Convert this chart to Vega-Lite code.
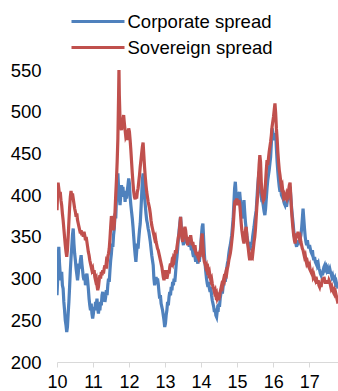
{
  "$schema": "https://vega.github.io/schema/vega-lite/v6.json",
  "width": 281,
  "height": 292,
  "autosize": {"type": "none"},
  "padding": {"left": 57, "top": 70, "right": 0, "bottom": 29},
  "background": "white",
  "config": {"view": {"stroke": null}, "font": "Liberation Sans"},
  "datasets": {
    "blue": [
{"t":10.00,"v":280},{"t":10.02,"v":300},{"t":10.03,"v":322},{"t":10.05,"v":338},{"t":10.07,"v":318},{"t":10.09,"v":305},{"t":10.11,"v":298},{"t":10.13,"v":308},{"t":10.15,"v":292},{"t":10.17,"v":288},{"t":10.19,"v":272},{"t":10.21,"v":262},{"t":10.23,"v":250},{"t":10.25,"v":244},{"t":10.27,"v":236},{"t":10.29,"v":242},{"t":10.31,"v":258},{"t":10.33,"v":272},{"t":10.35,"v":290},{"t":10.37,"v":310},{"t":10.39,"v":325},{"t":10.41,"v":338},{"t":10.43,"v":352},{"t":10.45,"v":360},{"t":10.47,"v":342},{"t":10.49,"v":330},{"t":10.51,"v":322},{"t":10.53,"v":312},{"t":10.55,"v":305},{"t":10.57,"v":298},{"t":10.59,"v":306},{"t":10.61,"v":318},{"t":10.63,"v":312},{"t":10.65,"v":322},{"t":10.67,"v":328},{"t":10.69,"v":318},{"t":10.71,"v":310},{"t":10.73,"v":302},{"t":10.75,"v":298},{"t":10.77,"v":305},{"t":10.79,"v":292},{"t":10.81,"v":300},{"t":10.83,"v":306},{"t":10.85,"v":298},{"t":10.87,"v":288},{"t":10.89,"v":276},{"t":10.91,"v":268},{"t":10.93,"v":262},{"t":10.95,"v":270},{"t":10.97,"v":258},{"t":10.99,"v":252},
{"t":11.01,"v":258},{"t":11.03,"v":266},{"t":11.05,"v":262},{"t":11.07,"v":272},{"t":11.09,"v":268},{"t":11.11,"v":276},{"t":11.13,"v":264},{"t":11.15,"v":258},{"t":11.17,"v":266},{"t":11.19,"v":262},{"t":11.21,"v":272},{"t":11.23,"v":268},{"t":11.25,"v":280},{"t":11.27,"v":284},{"t":11.29,"v":274},{"t":11.31,"v":280},{"t":11.33,"v":272},{"t":11.35,"v":278},{"t":11.37,"v":286},{"t":11.39,"v":280},{"t":11.41,"v":292},{"t":11.43,"v":300},{"t":11.45,"v":296},{"t":11.47,"v":310},{"t":11.49,"v":322},{"t":11.51,"v":330},{"t":11.53,"v":342},{"t":11.55,"v":338},{"t":11.57,"v":352},{"t":11.59,"v":360},{"t":11.61,"v":378},{"t":11.63,"v":372},{"t":11.65,"v":395},{"t":11.67,"v":410},{"t":11.69,"v":426},{"t":11.71,"v":408},{"t":11.73,"v":396},{"t":11.75,"v":388},{"t":11.77,"v":400},{"t":11.79,"v":412},{"t":11.81,"v":404},{"t":11.83,"v":410},{"t":11.85,"v":398},{"t":11.87,"v":405},{"t":11.89,"v":392},{"t":11.91,"v":402},{"t":11.93,"v":396},{"t":11.95,"v":405},{"t":11.97,"v":412},{"t":11.99,"v":420},
{"t":12.01,"v":414},{"t":12.03,"v":398},{"t":12.05,"v":388},{"t":12.07,"v":380},{"t":12.09,"v":372},{"t":12.11,"v":362},{"t":12.13,"v":350},{"t":12.15,"v":338},{"t":12.17,"v":328},{"t":12.19,"v":320},{"t":12.21,"v":332},{"t":12.23,"v":342},{"t":12.25,"v":336},{"t":12.27,"v":348},{"t":12.29,"v":358},{"t":12.31,"v":366},{"t":12.33,"v":382},{"t":12.35,"v":400},{"t":12.37,"v":418},{"t":12.39,"v":426},{"t":12.41,"v":410},{"t":12.43,"v":398},{"t":12.45,"v":388},{"t":12.47,"v":378},{"t":12.49,"v":370},{"t":12.51,"v":366},{"t":12.53,"v":360},{"t":12.55,"v":356},{"t":12.57,"v":350},{"t":12.59,"v":344},{"t":12.61,"v":336},{"t":12.63,"v":328},{"t":12.65,"v":322},{"t":12.67,"v":316},{"t":12.69,"v":300},{"t":12.71,"v":292},{"t":12.73,"v":296},{"t":12.75,"v":302},{"t":12.77,"v":296},{"t":12.79,"v":300},{"t":12.81,"v":294},{"t":12.83,"v":284},{"t":12.85,"v":276},{"t":12.87,"v":280},{"t":12.89,"v":270},{"t":12.91,"v":266},{"t":12.93,"v":262},{"t":12.95,"v":256},{"t":12.97,"v":250},{"t":12.99,"v":242},
{"t":13.01,"v":246},{"t":13.03,"v":256},{"t":13.05,"v":262},{"t":13.07,"v":272},{"t":13.09,"v":268},{"t":13.11,"v":278},{"t":13.13,"v":284},{"t":13.15,"v":280},{"t":13.17,"v":290},{"t":13.19,"v":286},{"t":13.21,"v":296},{"t":13.23,"v":292},{"t":13.25,"v":300},{"t":13.27,"v":296},{"t":13.29,"v":306},{"t":13.31,"v":318},{"t":13.33,"v":326},{"t":13.35,"v":336},{"t":13.37,"v":348},{"t":13.39,"v":358},{"t":13.41,"v":366},{"t":13.43,"v":374},{"t":13.45,"v":362},{"t":13.47,"v":350},{"t":13.49,"v":346},{"t":13.51,"v":340},{"t":13.53,"v":348},{"t":13.55,"v":344},{"t":13.57,"v":352},{"t":13.59,"v":348},{"t":13.61,"v":342},{"t":13.63,"v":348},{"t":13.65,"v":344},{"t":13.67,"v":338},{"t":13.69,"v":346},{"t":13.71,"v":340},{"t":13.73,"v":334},{"t":13.75,"v":338},{"t":13.77,"v":330},{"t":13.79,"v":326},{"t":13.81,"v":332},{"t":13.83,"v":326},{"t":13.85,"v":320},{"t":13.87,"v":328},{"t":13.89,"v":322},{"t":13.91,"v":318},{"t":13.93,"v":324},{"t":13.95,"v":320},{"t":13.97,"v":328},{"t":13.99,"v":340},
{"t":14.01,"v":352},{"t":14.03,"v":362},{"t":14.05,"v":366},{"t":14.07,"v":348},{"t":14.09,"v":330},{"t":14.11,"v":318},{"t":14.13,"v":308},{"t":14.15,"v":300},{"t":14.17,"v":294},{"t":14.19,"v":290},{"t":14.21,"v":296},{"t":14.23,"v":288},{"t":14.25,"v":284},{"t":14.27,"v":290},{"t":14.29,"v":280},{"t":14.31,"v":274},{"t":14.33,"v":270},{"t":14.35,"v":266},{"t":14.37,"v":260},{"t":14.39,"v":264},{"t":14.41,"v":256},{"t":14.43,"v":254},{"t":14.45,"v":262},{"t":14.47,"v":260},{"t":14.49,"v":270},{"t":14.51,"v":266},{"t":14.53,"v":276},{"t":14.55,"v":282},{"t":14.57,"v":286},{"t":14.59,"v":282},{"t":14.61,"v":290},{"t":14.63,"v":296},{"t":14.65,"v":300},{"t":14.67,"v":296},{"t":14.69,"v":306},{"t":14.71,"v":312},{"t":14.73,"v":318},{"t":14.75,"v":322},{"t":14.77,"v":330},{"t":14.79,"v":336},{"t":14.81,"v":340},{"t":14.83,"v":346},{"t":14.85,"v":352},{"t":14.87,"v":362},{"t":14.89,"v":372},{"t":14.91,"v":390},{"t":14.93,"v":408},{"t":14.95,"v":416},{"t":14.97,"v":402},{"t":14.99,"v":396},
{"t":15.01,"v":398},{"t":15.03,"v":392},{"t":15.05,"v":400},{"t":15.07,"v":404},{"t":15.09,"v":394},{"t":15.11,"v":384},{"t":15.13,"v":372},{"t":15.15,"v":376},{"t":15.17,"v":386},{"t":15.19,"v":394},{"t":15.21,"v":380},{"t":15.23,"v":368},{"t":15.25,"v":360},{"t":15.27,"v":352},{"t":15.29,"v":346},{"t":15.31,"v":342},{"t":15.33,"v":338},{"t":15.35,"v":334},{"t":15.37,"v":338},{"t":15.39,"v":344},{"t":15.41,"v":340},{"t":15.43,"v":350},{"t":15.45,"v":356},{"t":15.47,"v":362},{"t":15.49,"v":370},{"t":15.51,"v":376},{"t":15.53,"v":382},{"t":15.55,"v":396},{"t":15.57,"v":410},{"t":15.59,"v":420},{"t":15.61,"v":428},{"t":15.63,"v":414},{"t":15.65,"v":404},{"t":15.67,"v":398},{"t":15.69,"v":400},{"t":15.71,"v":392},{"t":15.73,"v":386},{"t":15.75,"v":380},{"t":15.77,"v":376},{"t":15.79,"v":384},{"t":15.81,"v":396},{"t":15.83,"v":408},{"t":15.85,"v":418},{"t":15.87,"v":424},{"t":15.89,"v":430},{"t":15.91,"v":438},{"t":15.93,"v":446},{"t":15.95,"v":462},{"t":15.97,"v":480},{"t":15.99,"v":476},
{"t":16.01,"v":470},{"t":16.03,"v":466},{"t":16.05,"v":472},{"t":16.07,"v":474},{"t":16.09,"v":456},{"t":16.11,"v":440},{"t":16.13,"v":428},{"t":16.15,"v":418},{"t":16.17,"v":410},{"t":16.19,"v":404},{"t":16.21,"v":408},{"t":16.23,"v":400},{"t":16.25,"v":398},{"t":16.27,"v":402},{"t":16.29,"v":394},{"t":16.31,"v":390},{"t":16.33,"v":388},{"t":16.35,"v":392},{"t":16.37,"v":386},{"t":16.39,"v":392},{"t":16.41,"v":396},{"t":16.43,"v":402},{"t":16.45,"v":406},{"t":16.47,"v":410},{"t":16.49,"v":398},{"t":16.51,"v":386},{"t":16.53,"v":376},{"t":16.55,"v":368},{"t":16.57,"v":358},{"t":16.59,"v":350},{"t":16.61,"v":346},{"t":16.63,"v":342},{"t":16.65,"v":338},{"t":16.67,"v":344},{"t":16.69,"v":340},{"t":16.71,"v":346},{"t":16.73,"v":342},{"t":16.75,"v":348},{"t":16.77,"v":352},{"t":16.79,"v":360},{"t":16.81,"v":372},{"t":16.83,"v":384},{"t":16.85,"v":372},{"t":16.87,"v":360},{"t":16.89,"v":350},{"t":16.91,"v":344},{"t":16.93,"v":340},{"t":16.95,"v":346},{"t":16.97,"v":340},{"t":16.99,"v":336},
{"t":17.01,"v":340},{"t":17.03,"v":336},{"t":17.05,"v":332},{"t":17.07,"v":330},{"t":17.09,"v":334},{"t":17.11,"v":326},{"t":17.13,"v":322},{"t":17.15,"v":326},{"t":17.17,"v":320},{"t":17.19,"v":318},{"t":17.21,"v":322},{"t":17.23,"v":316},{"t":17.25,"v":318},{"t":17.27,"v":312},{"t":17.29,"v":310},{"t":17.31,"v":306},{"t":17.33,"v":304},{"t":17.35,"v":308},{"t":17.37,"v":304},{"t":17.39,"v":310},{"t":17.41,"v":314},{"t":17.43,"v":316},{"t":17.45,"v":312},{"t":17.47,"v":314},{"t":17.49,"v":310},{"t":17.51,"v":312},{"t":17.53,"v":306},{"t":17.55,"v":310},{"t":17.57,"v":312},{"t":17.59,"v":308},{"t":17.61,"v":306},{"t":17.63,"v":302},{"t":17.65,"v":304},{"t":17.67,"v":300},{"t":17.69,"v":298},{"t":17.71,"v":300},{"t":17.73,"v":294},{"t":17.75,"v":296},{"t":17.77,"v":292},{"t":17.79,"v":290},{"t":17.80,"v":288}
    ],
    "red": [
{"t":10.00,"v":382},{"t":10.02,"v":405},{"t":10.03,"v":415},{"t":10.05,"v":408},{"t":10.07,"v":400},{"t":10.09,"v":404},{"t":10.11,"v":394},{"t":10.13,"v":388},{"t":10.15,"v":378},{"t":10.17,"v":370},{"t":10.19,"v":360},{"t":10.21,"v":350},{"t":10.23,"v":340},{"t":10.25,"v":332},{"t":10.27,"v":326},{"t":10.29,"v":334},{"t":10.31,"v":350},{"t":10.33,"v":368},{"t":10.35,"v":385},{"t":10.37,"v":398},{"t":10.39,"v":405},{"t":10.41,"v":398},{"t":10.43,"v":402},{"t":10.45,"v":396},{"t":10.47,"v":390},{"t":10.49,"v":384},{"t":10.51,"v":380},{"t":10.53,"v":374},{"t":10.55,"v":378},{"t":10.57,"v":370},{"t":10.59,"v":366},{"t":10.61,"v":362},{"t":10.63,"v":358},{"t":10.65,"v":354},{"t":10.67,"v":358},{"t":10.69,"v":352},{"t":10.71,"v":356},{"t":10.73,"v":350},{"t":10.75,"v":356},{"t":10.77,"v":352},{"t":10.79,"v":346},{"t":10.81,"v":350},{"t":10.83,"v":344},{"t":10.85,"v":338},{"t":10.87,"v":332},{"t":10.89,"v":328},{"t":10.91,"v":322},{"t":10.93,"v":318},{"t":10.95,"v":314},{"t":10.97,"v":310},{"t":10.99,"v":312},
{"t":11.01,"v":306},{"t":11.03,"v":310},{"t":11.05,"v":302},{"t":11.07,"v":298},{"t":11.09,"v":300},{"t":11.11,"v":292},{"t":11.13,"v":286},{"t":11.15,"v":290},{"t":11.17,"v":298},{"t":11.19,"v":304},{"t":11.21,"v":300},{"t":11.23,"v":308},{"t":11.25,"v":304},{"t":11.27,"v":310},{"t":11.29,"v":306},{"t":11.31,"v":312},{"t":11.33,"v":316},{"t":11.35,"v":312},{"t":11.37,"v":320},{"t":11.39,"v":318},{"t":11.41,"v":326},{"t":11.43,"v":330},{"t":11.45,"v":336},{"t":11.47,"v":348},{"t":11.49,"v":362},{"t":11.51,"v":375},{"t":11.53,"v":370},{"t":11.55,"v":362},{"t":11.57,"v":358},{"t":11.59,"v":364},{"t":11.61,"v":380},{"t":11.63,"v":400},{"t":11.65,"v":418},{"t":11.67,"v":440},{"t":11.69,"v":468},{"t":11.71,"v":520},{"t":11.72,"v":552},{"t":11.73,"v":520},{"t":11.75,"v":490},{"t":11.77,"v":482},{"t":11.79,"v":478},{"t":11.81,"v":486},{"t":11.83,"v":490},{"t":11.85,"v":496},{"t":11.87,"v":486},{"t":11.89,"v":478},{"t":11.91,"v":470},{"t":11.93,"v":472},{"t":11.95,"v":466},{"t":11.97,"v":474},{"t":11.99,"v":480},
{"t":12.01,"v":476},{"t":12.03,"v":466},{"t":12.05,"v":454},{"t":12.07,"v":440},{"t":12.09,"v":426},{"t":12.11,"v":414},{"t":12.13,"v":404},{"t":12.15,"v":398},{"t":12.17,"v":395},{"t":12.19,"v":400},{"t":12.21,"v":396},{"t":12.23,"v":404},{"t":12.25,"v":408},{"t":12.27,"v":416},{"t":12.29,"v":424},{"t":12.31,"v":434},{"t":12.33,"v":442},{"t":12.35,"v":450},{"t":12.37,"v":458},{"t":12.39,"v":463},{"t":12.41,"v":448},{"t":12.43,"v":434},{"t":12.45,"v":422},{"t":12.47,"v":412},{"t":12.49,"v":404},{"t":12.51,"v":398},{"t":12.53,"v":392},{"t":12.55,"v":388},{"t":12.57,"v":384},{"t":12.59,"v":378},{"t":12.61,"v":370},{"t":12.63,"v":364},{"t":12.65,"v":360},{"t":12.67,"v":356},{"t":12.69,"v":352},{"t":12.71,"v":348},{"t":12.73,"v":350},{"t":12.75,"v":344},{"t":12.77,"v":340},{"t":12.79,"v":336},{"t":12.81,"v":334},{"t":12.83,"v":330},{"t":12.85,"v":326},{"t":12.87,"v":322},{"t":12.89,"v":318},{"t":12.91,"v":314},{"t":12.93,"v":308},{"t":12.95,"v":302},{"t":12.97,"v":298},{"t":12.99,"v":304},
{"t":13.01,"v":310},{"t":13.03,"v":306},{"t":13.05,"v":300},{"t":13.07,"v":304},{"t":13.09,"v":310},{"t":13.11,"v":306},{"t":13.13,"v":314},{"t":13.15,"v":318},{"t":13.17,"v":314},{"t":13.19,"v":320},{"t":13.21,"v":318},{"t":13.23,"v":324},{"t":13.25,"v":322},{"t":13.27,"v":328},{"t":13.29,"v":334},{"t":13.31,"v":330},{"t":13.33,"v":338},{"t":13.35,"v":344},{"t":13.37,"v":350},{"t":13.39,"v":354},{"t":13.41,"v":364},{"t":13.43,"v":374},{"t":13.45,"v":360},{"t":13.47,"v":348},{"t":13.49,"v":344},{"t":13.51,"v":350},{"t":13.53,"v":356},{"t":13.55,"v":362},{"t":13.57,"v":358},{"t":13.59,"v":350},{"t":13.61,"v":344},{"t":13.63,"v":340},{"t":13.65,"v":346},{"t":13.67,"v":350},{"t":13.69,"v":344},{"t":13.71,"v":352},{"t":13.73,"v":346},{"t":13.75,"v":340},{"t":13.77,"v":344},{"t":13.79,"v":338},{"t":13.81,"v":336},{"t":13.83,"v":340},{"t":13.85,"v":332},{"t":13.87,"v":328},{"t":13.89,"v":332},{"t":13.91,"v":326},{"t":13.93,"v":324},{"t":13.95,"v":328},{"t":13.97,"v":326},{"t":13.99,"v":336},
{"t":14.01,"v":348},{"t":14.03,"v":354},{"t":14.05,"v":340},{"t":14.07,"v":326},{"t":14.09,"v":320},{"t":14.11,"v":318},{"t":14.13,"v":314},{"t":14.15,"v":316},{"t":14.17,"v":310},{"t":14.19,"v":312},{"t":14.21,"v":306},{"t":14.23,"v":308},{"t":14.25,"v":302},{"t":14.27,"v":298},{"t":14.29,"v":300},{"t":14.31,"v":294},{"t":14.33,"v":290},{"t":14.35,"v":288},{"t":14.37,"v":284},{"t":14.39,"v":286},{"t":14.41,"v":280},{"t":14.43,"v":282},{"t":14.45,"v":276},{"t":14.47,"v":278},{"t":14.49,"v":274},{"t":14.51,"v":278},{"t":14.53,"v":284},{"t":14.55,"v":288},{"t":14.57,"v":292},{"t":14.59,"v":290},{"t":14.61,"v":296},{"t":14.63,"v":300},{"t":14.65,"v":298},{"t":14.67,"v":304},{"t":14.69,"v":308},{"t":14.71,"v":306},{"t":14.73,"v":312},{"t":14.75,"v":316},{"t":14.77,"v":322},{"t":14.79,"v":326},{"t":14.81,"v":330},{"t":14.83,"v":336},{"t":14.85,"v":344},{"t":14.87,"v":352},{"t":14.89,"v":362},{"t":14.91,"v":376},{"t":14.93,"v":390},{"t":14.95,"v":394},{"t":14.97,"v":388},{"t":14.99,"v":396},
{"t":15.01,"v":392},{"t":15.03,"v":388},{"t":15.05,"v":394},{"t":15.07,"v":390},{"t":15.09,"v":380},{"t":15.11,"v":368},{"t":15.13,"v":358},{"t":15.15,"v":352},{"t":15.17,"v":346},{"t":15.19,"v":342},{"t":15.21,"v":350},{"t":15.23,"v":358},{"t":15.25,"v":362},{"t":15.27,"v":352},{"t":15.29,"v":342},{"t":15.31,"v":336},{"t":15.33,"v":328},{"t":15.35,"v":322},{"t":15.37,"v":326},{"t":15.39,"v":322},{"t":15.41,"v":330},{"t":15.43,"v":328},{"t":15.45,"v":336},{"t":15.47,"v":344},{"t":15.49,"v":350},{"t":15.51,"v":360},{"t":15.53,"v":374},{"t":15.55,"v":388},{"t":15.57,"v":400},{"t":15.59,"v":420},{"t":15.61,"v":436},{"t":15.63,"v":448},{"t":15.65,"v":440},{"t":15.67,"v":416},{"t":15.69,"v":402},{"t":15.71,"v":398},{"t":15.73,"v":394},{"t":15.75,"v":396},{"t":15.77,"v":404},{"t":15.79,"v":416},{"t":15.81,"v":430},{"t":15.83,"v":442},{"t":15.85,"v":436},{"t":15.87,"v":444},{"t":15.89,"v":452},{"t":15.91,"v":458},{"t":15.93,"v":464},{"t":15.95,"v":472},{"t":15.97,"v":482},{"t":15.99,"v":488},
{"t":16.01,"v":494},{"t":16.03,"v":502},{"t":16.05,"v":510},{"t":16.07,"v":498},{"t":16.09,"v":480},{"t":16.11,"v":468},{"t":16.13,"v":452},{"t":16.15,"v":440},{"t":16.17,"v":430},{"t":16.19,"v":424},{"t":16.21,"v":416},{"t":16.23,"v":410},{"t":16.25,"v":412},{"t":16.27,"v":404},{"t":16.29,"v":398},{"t":16.31,"v":400},{"t":16.33,"v":394},{"t":16.35,"v":398},{"t":16.37,"v":396},{"t":16.39,"v":402},{"t":16.41,"v":400},{"t":16.43,"v":406},{"t":16.45,"v":412},{"t":16.47,"v":415},{"t":16.49,"v":398},{"t":16.51,"v":382},{"t":16.53,"v":370},{"t":16.55,"v":360},{"t":16.57,"v":352},{"t":16.59,"v":346},{"t":16.61,"v":342},{"t":16.63,"v":348},{"t":16.65,"v":354},{"t":16.67,"v":350},{"t":16.69,"v":356},{"t":16.71,"v":352},{"t":16.73,"v":348},{"t":16.75,"v":350},{"t":16.77,"v":344},{"t":16.79,"v":340},{"t":16.81,"v":336},{"t":16.83,"v":334},{"t":16.85,"v":330},{"t":16.87,"v":326},{"t":16.89,"v":328},{"t":16.91,"v":322},{"t":16.93,"v":318},{"t":16.95,"v":320},{"t":16.97,"v":316},{"t":16.99,"v":314},
{"t":17.01,"v":316},{"t":17.03,"v":310},{"t":17.05,"v":308},{"t":17.07,"v":306},{"t":17.09,"v":308},{"t":17.11,"v":302},{"t":17.13,"v":304},{"t":17.15,"v":300},{"t":17.17,"v":298},{"t":17.19,"v":302},{"t":17.21,"v":298},{"t":17.23,"v":294},{"t":17.25,"v":298},{"t":17.27,"v":292},{"t":17.29,"v":290},{"t":17.31,"v":294},{"t":17.33,"v":290},{"t":17.35,"v":296},{"t":17.37,"v":300},{"t":17.39,"v":296},{"t":17.41,"v":302},{"t":17.43,"v":298},{"t":17.45,"v":294},{"t":17.47,"v":298},{"t":17.49,"v":294},{"t":17.51,"v":298},{"t":17.53,"v":294},{"t":17.55,"v":298},{"t":17.57,"v":296},{"t":17.59,"v":292},{"t":17.61,"v":288},{"t":17.63,"v":290},{"t":17.65,"v":286},{"t":17.67,"v":284},{"t":17.69,"v":286},{"t":17.71,"v":282},{"t":17.73,"v":284},{"t":17.75,"v":280},{"t":17.77,"v":276},{"t":17.79,"v":272},{"t":17.80,"v":270}
    ]
  },
  "layer": [
    {
      "data": {"name": "blue"},
      "mark": {"type": "line", "strokeWidth": 3.2, "clip": true},
      "encoding": {
        "x": {"field": "t", "type": "quantitative", "scale": {"domain": [10, 17.8], "nice": false, "zero": false},
          "axis": {"values": [10,11,12,13,14,15,16,17], "format": "d", "title": null, "grid": false, "domainColor": "#d9d9d9", "tickColor": "#d9d9d9", "tickSize": 5, "labelFontSize": 18, "labelColor": "#000000", "labelPadding": 6, "labelFlush": false}},
        "y": {"field": "v", "type": "quantitative", "scale": {"domain": [200, 550], "nice": false, "zero": false},
          "axis": {"values": [200,250,300,350,400,450,500,550], "title": null, "grid": false, "domain": false, "ticks": false, "labelFontSize": 18.5, "labelColor": "#000000", "labelPadding": 16}},
        "color": {"datum": "Corporate spread", "type": "nominal", "scale": {"domain": ["Corporate spread", "Sovereign spread"], "range": ["#4F81BD", "#C0504D"]},
          "legend": {"title": null, "orient": "none", "legendX": 24.5, "legendY": -65, "direction": "vertical", "symbolType": "M-1.767,0H1.767", "symbolSize": 900, "symbolStrokeWidth": 3, "labelFontSize": 18.5, "labelColor": "#000000", "labelOffset": 13, "rowPadding": 0, "padding": 0}}
      }
    },
    {
      "data": {"name": "red"},
      "mark": {"type": "line", "strokeWidth": 3.2, "clip": true},
      "encoding": {
        "x": {"field": "t", "type": "quantitative"},
        "y": {"field": "v", "type": "quantitative"},
        "color": {"datum": "Sovereign spread", "type": "nominal"}
      }
    }
  ]
}
